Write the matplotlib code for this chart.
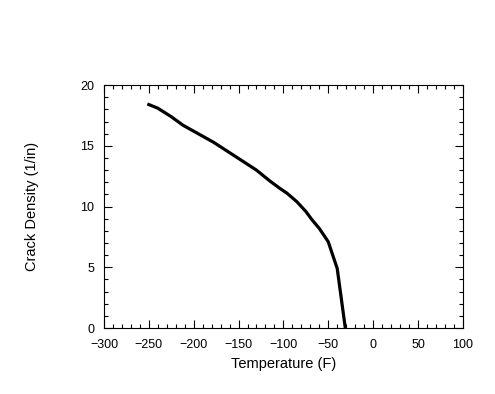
import matplotlib
matplotlib.use("Agg")
import matplotlib.pyplot as plt
from matplotlib.ticker import MultipleLocator

temperature = [-250, -240, -225, -212, -195, -178, -155, -130, -115, -104, -96, -85, -75, -68, -60, -50, -45, -40, -31]
crack_density = [18.4, 18.1, 17.4, 16.7, 16.0, 15.3, 14.2, 13.0, 12.1, 11.5, 11.1, 10.4, 9.6, 8.9, 8.2, 7.1, 6.0, 4.9, 0.0]

plt.rcParams['font.family'] = ['Liberation Sans', 'DejaVu Sans']
fig = plt.figure(figsize=(4.95, 3.94), dpi=100)
ax = fig.add_axes([0.210, 0.1675, 0.725, 0.6165])
ax.plot(temperature, crack_density, color='black', linewidth=2.3)
ax.set_xlim(-300, 100)
ax.set_ylim(0, 20)
ax.xaxis.set_major_locator(MultipleLocator(50))
ax.xaxis.set_minor_locator(MultipleLocator(10))
ax.yaxis.set_major_locator(MultipleLocator(5))
ax.yaxis.set_minor_locator(MultipleLocator(1))
ax.tick_params(which='both', direction='in', top=True, right=True, labelsize=9, width=0.8)
ax.tick_params(which='major', length=6)
ax.tick_params(which='minor', length=3)
ax.tick_params(axis='x', which='major', pad=8)
ax.tick_params(axis='y', which='major', pad=7)
for s in ax.spines.values():
    s.set_linewidth(0.8)
ax.set_xlabel('Temperature (F)', fontsize=10.5, labelpad=4)
ax.set_ylabel('Crack Density (1/in)', fontsize=10.5, labelpad=30)
fig.savefig('out.png', dpi=100)
